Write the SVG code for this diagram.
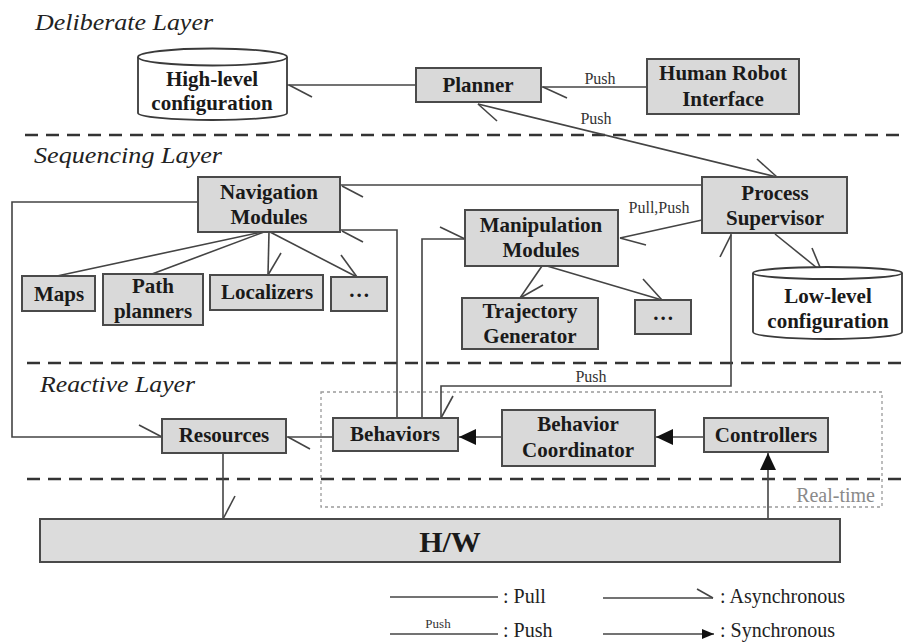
<svg xmlns="http://www.w3.org/2000/svg" width="906" height="643" viewBox="0 0 906 643">
  <defs>
    <style>
      .box { fill: #d9d9d9; stroke: #4a4a4a; stroke-width: 2; }
      .cyl { fill: #ffffff; stroke: #3a3a3a; stroke-width: 1.8; }
      .lbl { font-family: "Liberation Serif", "Times New Roman", serif; font-weight: bold; font-size: 21px; fill: #1a1a1a; text-anchor: middle; }
      .big { font-size: 30px; }
      .layer { font-family: "Liberation Serif", "Times New Roman", serif; font-style: italic; font-size: 24px; fill: #222; }
      .tag { font-family: "Liberation Serif", "Times New Roman", serif; font-size: 16px; fill: #333; text-anchor: middle; }
      .small { font-size: 13px; }
      .legend { font-family: "Liberation Serif", "Times New Roman", serif; font-size: 20px; fill: #222; }
      .sep { stroke: #333; stroke-width: 2.5; stroke-dasharray: 13 8; fill: none; }
      .wire { stroke: #444; stroke-width: 1.6; fill: none; }
      .tick { stroke: #444; stroke-width: 1.6; fill: none; }
    </style>
    <marker id="sync" viewBox="0 0 17 16" refX="17" refY="8" markerWidth="17" markerHeight="16" markerUnits="userSpaceOnUse" orient="auto">
      <path d="M0,0 L17,8 L0,16 Z" fill="#111"/>
    </marker>
    <marker id="syncSmall" viewBox="0 0 12 10" refX="12" refY="5" markerWidth="12" markerHeight="10" markerUnits="userSpaceOnUse" orient="auto">
      <path d="M0,0 L12,5 L0,10 Z" fill="#111"/>
    </marker>
  </defs>

  <rect width="906" height="643" fill="#ffffff"/>

  <!-- layer separators and titles -->
  <g id="layers">
    <line class="sep" x1="25" y1="135" x2="906" y2="135"/>
    <line class="sep" x1="27" y1="363" x2="906" y2="363"/>
    <line class="sep" x1="27" y1="479" x2="906" y2="479"/>
    <text class="layer" x="35" y="30" textLength="178" lengthAdjust="spacingAndGlyphs">Deliberate Layer</text>
    <text class="layer" x="34" y="163" textLength="188" lengthAdjust="spacingAndGlyphs">Sequencing Layer</text>
    <text class="layer" x="40" y="392" textLength="155" lengthAdjust="spacingAndGlyphs">Reactive Layer</text>
  </g>

  <!-- real-time region -->
  <g id="realtime">
    <rect x="321" y="392" width="561" height="115" fill="none" stroke="#9a9a9a" stroke-width="1.3" stroke-dasharray="3 3"/>
    <text x="875" y="502" font-family="Liberation Serif, Times New Roman, serif" font-size="20" fill="#8a8a8a" text-anchor="end">Real-time</text>
  </g>

  <!-- connectors -->
  <g id="connectors">
    <!-- high-level configuration / planner -->
    <path class="wire" d="M287,85 H416"/>
    <path class="tick" d="M289,85 L312,97"/>
    <!-- planner / human robot interface -->
    <path class="wire" d="M541,87 H647"/>
    <path class="tick" d="M543,87 L567,98"/>
    <text class="tag" x="600" y="84">Push</text>
    <!-- planner / process supervisor -->
    <path class="wire" d="M478,104 L777,177"/>
    <path class="tick" d="M478,104 L497,121"/>
    <path class="tick" d="M757,159 L777,177"/>
    <text class="tag" x="596" y="124">Push</text>
    <!-- navigation / process supervisor -->
    <path class="wire" d="M340,185 H702"/>
    <path class="tick" d="M342,186 L363,197"/>
    <!-- navigation / resources -->
    <path class="wire" d="M198,202 H12 V437 H163"/>
    <path class="tick" d="M162,437 L139,425"/>
    <!-- navigation / behaviors -->
    <path class="wire" d="M340,230 H397 V418"/>
    <path class="tick" d="M342,231 L363,242"/>
    <!-- manipulation / behaviors -->
    <path class="wire" d="M465,239 H422 V418"/>
    <path class="tick" d="M465,239 L440,227"/>
    <!-- process supervisor / manipulation -->
    <path class="wire" d="M702,220 L620,238"/>
    <path class="tick" d="M620,238 L646,245"/>
    <text class="tag" x="659" y="213">Pull,Push</text>
    <!-- process supervisor / low-level configuration -->
    <path class="wire" d="M775,234 L822,272"/>
    <path class="tick" d="M822,272 L812,248"/>
    <!-- process supervisor / behaviors -->
    <path class="wire" d="M731,233 V386 H441 V418"/>
    <path class="tick" d="M731,235 L720,257"/>
    <path class="tick" d="M441,418 L453,396"/>
    <text class="tag" x="591" y="382">Push</text>
    <!-- navigation / sub-modules -->
    <path class="wire" d="M262,232 L57,276"/>
    <path class="tick" d="M58,276 L83,282"/>
    <path class="wire" d="M264,232 L152,274"/>
    <path class="tick" d="M153,274 L180,275"/>
    <path class="wire" d="M269,232 L268,275"/>
    <path class="tick" d="M268,275 L281,253"/>
    <path class="wire" d="M270,232 L357,277"/>
    <path class="tick" d="M357,277 L341,255"/>
    <!-- manipulation / sub-modules -->
    <path class="wire" d="M542,266 L520,298"/>
    <path class="tick" d="M520,298 L543,285"/>
    <path class="wire" d="M547,266 L662,300"/>
    <path class="tick" d="M662,300 L643,279"/>
    <!-- behaviors / resources -->
    <path class="wire" d="M333,437 H286"/>
    <path class="tick" d="M288,437 L310,449"/>
    <!-- resources / hardware -->
    <path class="wire" d="M223,453 V519"/>
    <path class="tick" d="M223,519 L235,496"/>
    <!-- synchronous chain -->
    <path class="wire" d="M704,437 H656" marker-end="url(#sync)"/>
    <path class="wire" d="M502,437 H459" marker-end="url(#sync)"/>
    <path class="wire" d="M768,519 V453" marker-end="url(#sync)"/>
  </g>

  <!-- deliberate layer nodes -->
  <g id="high-level-configuration">
    <path class="cyl" d="M138,57 V113 A74.5,7 0 0 0 287,113 V57"/>
    <ellipse class="cyl" cx="212.5" cy="57" rx="74.5" ry="8.5"/>
    <text class="lbl" x="212" y="86">High-level</text>
    <text class="lbl" x="212" y="110">configuration</text>
  </g>
  <g id="planner">
    <rect class="box" x="416" y="68" width="125" height="34"/>
    <text class="lbl" x="478" y="92">Planner</text>
  </g>
  <g id="human-robot-interface">
    <rect class="box" x="647" y="59" width="152" height="55"/>
    <text class="lbl" x="723" y="80">Human Robot</text>
    <text class="lbl" x="723" y="106">Interface</text>
  </g>

  <!-- sequencing layer nodes -->
  <g id="navigation-modules">
    <rect class="box" x="198" y="177" width="142" height="55"/>
    <text class="lbl" x="269" y="199">Navigation</text>
    <text class="lbl" x="269" y="224">Modules</text>
  </g>
  <g id="process-supervisor">
    <rect class="box" x="702" y="177" width="145" height="56"/>
    <text class="lbl" x="775" y="200">Process</text>
    <text class="lbl" x="775" y="225">Supervisor</text>
  </g>
  <g id="manipulation-modules">
    <rect class="box" x="465" y="210" width="153" height="56"/>
    <text class="lbl" x="541" y="232">Manipulation</text>
    <text class="lbl" x="541" y="257">Modules</text>
  </g>
  <g id="maps">
    <rect class="box" x="22" y="276" width="73" height="35"/>
    <text class="lbl" x="59" y="301">Maps</text>
  </g>
  <g id="path-planners">
    <rect class="box" x="103" y="274" width="100" height="51"/>
    <text class="lbl" x="153" y="293">Path</text>
    <text class="lbl" x="153" y="318">planners</text>
  </g>
  <g id="localizers">
    <rect class="box" x="210" y="275" width="113" height="35"/>
    <text class="lbl" x="267" y="299">Localizers</text>
  </g>
  <g id="navigation-more">
    <rect class="box" x="331" y="277" width="56" height="34"/>
    <text class="lbl" x="360" y="297" letter-spacing="2">...</text>
  </g>
  <g id="trajectory-generator">
    <rect class="box" x="462" y="298" width="136" height="51"/>
    <text class="lbl" x="530" y="318">Trajectory</text>
    <text class="lbl" x="530" y="343">Generator</text>
  </g>
  <g id="manipulation-more">
    <rect class="box" x="635" y="300" width="56" height="34"/>
    <text class="lbl" x="664" y="320" letter-spacing="2">...</text>
  </g>
  <g id="low-level-configuration">
    <path class="cyl" d="M753,273 V332 A74.5,7 0 0 0 902,332 V273"/>
    <ellipse class="cyl" cx="827.5" cy="273" rx="74.5" ry="6"/>
    <text class="lbl" x="828" y="303">Low-level</text>
    <text class="lbl" x="828" y="328">configuration</text>
  </g>

  <!-- reactive layer nodes -->
  <g id="resources">
    <rect class="box" x="162" y="419" width="124" height="34"/>
    <text class="lbl" x="224" y="442">Resources</text>
  </g>
  <g id="behaviors">
    <rect class="box" x="333" y="418" width="125" height="33"/>
    <text class="lbl" x="395" y="441">Behaviors</text>
  </g>
  <g id="behavior-coordinator">
    <rect class="box" x="502" y="410" width="153" height="56"/>
    <text class="lbl" x="578" y="431">Behavior</text>
    <text class="lbl" x="578" y="457">Coordinator</text>
  </g>
  <g id="controllers">
    <rect class="box" x="704" y="418" width="124" height="34"/>
    <text class="lbl" x="766" y="442">Controllers</text>
  </g>

  <!-- hardware -->
  <g id="hardware">
    <rect x="40" y="519" width="800" height="43" fill="#dcdcdc" stroke="#4a4a4a" stroke-width="2"/>
    <text class="lbl big" x="450" y="552">H/W</text>
  </g>

  <!-- legend -->
  <g id="legend">
    <path class="wire" d="M390,597 H498"/>
    <text class="legend" x="503" y="603">: Pull</text>
    <path class="wire" d="M390,634 H498"/>
    <text class="tag small" x="438" y="628">Push</text>
    <text class="legend" x="503" y="637">: Push</text>
    <path class="wire" d="M603,598 H713"/>
    <path class="tick" d="M697,589 L713,598"/>
    <text class="legend" x="720" y="603">: Asynchronous</text>
    <path class="wire" d="M603,634 H714" marker-end="url(#syncSmall)"/>
    <text class="legend" x="720" y="637">: Synchronous</text>
  </g>
</svg>
